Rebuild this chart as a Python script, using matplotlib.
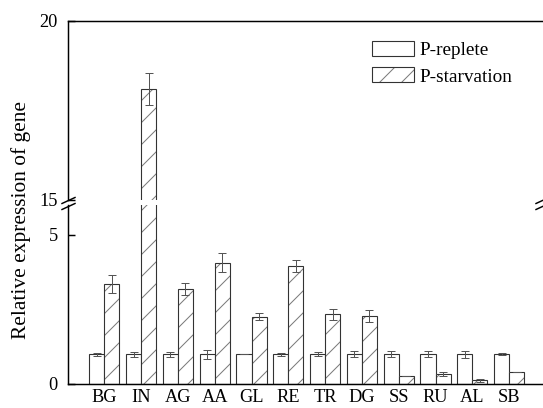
import matplotlib
matplotlib.use("Agg")
import matplotlib.pyplot as plt
import numpy as np
from matplotlib.patches import Patch
from matplotlib.lines import Line2D

categories = ["BG", "IN", "AG", "AA", "GL", "RE", "TR", "DG", "SS", "RU", "AL", "SB"]
replete = [1.0, 1.0, 1.0, 1.0, 1.0, 1.0, 1.0, 1.0, 1.0, 1.0, 1.0, 1.0]
replete_err = [0.05, 0.08, 0.08, 0.15, 0.01, 0.05, 0.07, 0.09, 0.1, 0.1, 0.12, 0.03]
starvation = [3.35, 18.08, 3.18, 4.07, 2.26, 3.95, 2.33, 2.27, 0.28, 0.34, 0.12, 0.41]
starvation_err = [0.3, 0.45, 0.2, 0.31, 0.11, 0.21, 0.18, 0.2, 0.0, 0.07, 0.05, 0.0]
legend_labels = ["P-replete", "P-starvation"]

DPI = 132
W, H = 543, 408
plt.rcParams['font.family'] = ['Liberation Serif', 'DejaVu Serif']
plt.rcParams['hatch.linewidth'] = 0.55

fig = plt.figure(figsize=(W / DPI, H / DPI), dpi=DPI)

def fx(px):
    return px / W

def fy(py):
    return (H - py) / H

left_px, right_px = 68, 543
bot_bottom, bot_top = 384, 205
top_bottom, top_top = 199.5, 20.7

ax_b = fig.add_axes([fx(left_px), fy(bot_bottom), (right_px - left_px) / W, (bot_bottom - bot_top) / H])
ax_t = fig.add_axes([fx(left_px), fy(top_bottom), (right_px - left_px) / W, (top_bottom - top_top) / H])

x = np.arange(len(categories))
bw = 0.41
edge = '#333333'
hatch_col = '#7a7a7a'
ecol = '#555555'

for ax in (ax_b, ax_t):
    ax.bar(x - bw / 2, replete, bw, color='white', edgecolor=edge, linewidth=0.6, zorder=2)
    ax.bar(x + bw / 2, starvation, bw, color='white', edgecolor=hatch_col, hatch='//', linewidth=0, zorder=2)
    ax.bar(x + bw / 2, starvation, bw, fill=False, edgecolor=edge, linewidth=0.6, zorder=3)
    ax.errorbar(x - bw / 2, replete, yerr=replete_err, fmt='none', ecolor=ecol,
                elinewidth=0.55, capsize=2.2, capthick=0.55, zorder=4)
    ax.errorbar(x + bw / 2, starvation, yerr=starvation_err, fmt='none', ecolor=ecol,
                elinewidth=0.55, capsize=2.2, capthick=0.55, zorder=4)
    ax.set_xlim(-0.986, 11.92)
    ax.spines['right'].set_visible(False)
    for s in ('left', 'top', 'bottom'):
        ax.spines[s].set_linewidth(0.8)
    ax.tick_params(axis='y', direction='in', length=3.8, width=0.8, pad=5.5, labelsize=10)

ax_b.set_ylim(0, 6.0)
ax_b.set_yticks([0, 5])
ax_b.spines['top'].set_visible(False)
ax_b.set_xticks(x)
ax_b.set_xticklabels(categories)
ax_b.tick_params(axis='x', length=0, pad=3, labelsize=10)

ax_t.set_ylim(15, 20)
ax_t.set_yticks([15, 20])
ax_t.spines['bottom'].set_visible(False)
ax_t.set_xticks([])

fig.text(fx(21), fy(220), "Relative expression of gene", rotation=90,
         ha='center', va='center', fontsize=11.7)

# break marks
for cx in (68.5, 542.5):
    for cy in (200.5, 206.5):
        fig.add_artist(Line2D([fx(cx - 6.5), fx(cx + 6.5)], [fy(cy + 3), fy(cy - 3)],
                              color='black', lw=0.8, transform=fig.transFigure))

h1 = Patch(facecolor='white', edgecolor=edge, linewidth=0.6)
h2a = Patch(facecolor='white', edgecolor=hatch_col, hatch='//', linewidth=0)
h2b = Patch(fill=False, edgecolor=edge, linewidth=0.6)
ax_t.legend([h1, (h2a, h2b)], legend_labels, loc='upper left',
            bbox_to_anchor=(fx(371.5), fy(41)), bbox_transform=fig.transFigure,
            frameon=False, fontsize=10.5, handlelength=2.23, handleheight=0.83,
            handletextpad=0.25, borderpad=0, borderaxespad=0, labelspacing=0.42)

fig.savefig("out.png", dpi=DPI)
